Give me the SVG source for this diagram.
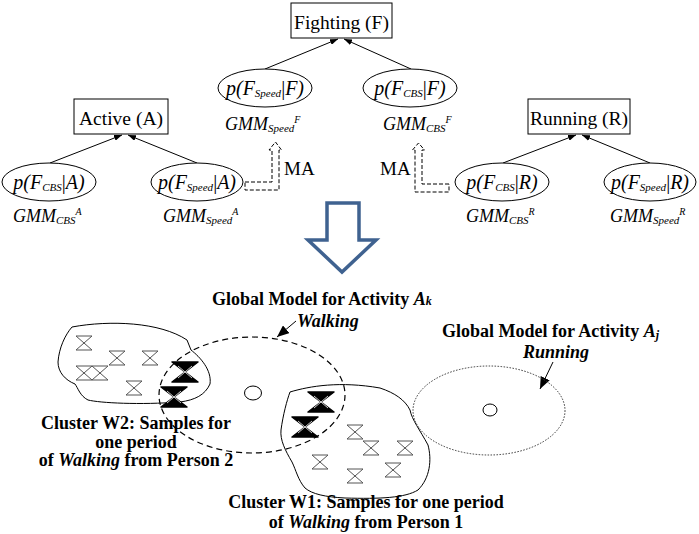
<svg xmlns="http://www.w3.org/2000/svg" xmlns:xlink="http://www.w3.org/1999/xlink" width="699" height="534" viewBox="0 0 699 534">
<style>
.box{fill:#fff;stroke:#000;stroke-width:1}
.ell{fill:#fff;stroke:#000;stroke-width:1}
.t{font-family:"Liberation Serif","Times New Roman",serif;fill:#000}
.bx{font-size:19.5px}
.it{font-style:italic;font-size:20px}
.gm{font-style:italic;font-size:18px}
.sub{font-size:11px}
.sup{font-size:10px}
.b{font-weight:bold;font-size:18px}
.edge{stroke:#000;stroke-width:1;fill:none}
.ma{fill:none;stroke:#000;stroke-width:1;stroke-dasharray:4,2}
.thin{stroke:#555;stroke-width:1;fill:none}
</style>
<defs>
<marker id="ah" viewBox="0 0 8 6" refX="8" refY="3" markerWidth="8" markerHeight="6" markerUnits="userSpaceOnUse" orient="auto">
<path d="M0,0 L8,3 L0,6 Z" fill="#000"/>
</marker>
<marker id="ah2" viewBox="0 0 12 10" refX="12" refY="5" markerWidth="12" markerHeight="10" markerUnits="userSpaceOnUse" orient="auto">
<path d="M0,0 L12,5 L0,10 Z" fill="#000"/>
</marker>
<g id="hg">
<path class="thin" d="M-8,-7 H8 M-8,7 H8 M-8,-7 L8,7 M8,-7 L-8,7"/>
</g>
<g id="hgb">
<path d="M-13,-10 H13 L0,0 Z M-13,10 H13 L0,0 Z" fill="#000" stroke="#000" stroke-width="1.5" stroke-linejoin="round"/>
<path d="M-7,-6 L7,6 M7,-6 L-7,6" stroke="#fff" stroke-width="0.8"/>
</g>
</defs>
<rect width="699" height="534" fill="#fff"/>

<g id="connectors">
<line class="edge" x1="265" y1="69" x2="338" y2="39" marker-end="url(#ah)"/>
<line class="edge" x1="411" y1="69" x2="344" y2="39" marker-end="url(#ah)"/>
<line class="edge" x1="50" y1="163" x2="122" y2="135" marker-end="url(#ah)"/>
<line class="edge" x1="197" y1="163" x2="128" y2="135" marker-end="url(#ah)"/>
<line class="edge" x1="503" y1="163" x2="576" y2="135" marker-end="url(#ah)"/>
<line class="edge" x1="650" y1="163" x2="582" y2="135" marker-end="url(#ah)"/>
<path class="ma" d="M245,182 H272 V150 H269 L275.5,142 L281.5,150 H279 V190 H245 Z"/>
<path class="ma" d="M449,184 H422 V150 H424.5 L418.5,143 L412.5,150 H415 V192 H449 Z"/>
<line class="edge" x1="296" y1="321" x2="277" y2="337" marker-end="url(#ah2)"/>
<line class="edge" x1="553" y1="362" x2="540" y2="389" marker-end="url(#ah2)"/>
</g>

<g id="fighting">
<rect class="box" x="291" y="3" width="101" height="35"/>
<text class="t bx" x="341.5" y="29" text-anchor="middle">Fighting (F)</text>
</g>
<g id="active">
<rect class="box" x="74" y="99" width="94" height="35"/>
<text class="t bx" x="121" y="125" text-anchor="middle">Active (A)</text>
</g>
<g id="running">
<rect class="box" x="528" y="99" width="102" height="35"/>
<text class="t bx" x="579" y="125" text-anchor="middle">Running (R)</text>
</g>

<g id="pSpeedF">
<ellipse class="ell" cx="265" cy="88" rx="47" ry="19"/>
<text class="t it" x="265" y="95" text-anchor="middle">p(F<tspan class="sub" dy="2">Speed</tspan><tspan dy="-2" font-style="normal">|</tspan>F)</text>
<text class="t gm" x="225" y="130">GMM<tspan class="sub" dy="2">Speed</tspan><tspan class="sup" dy="-9">F</tspan></text>
</g>
<g id="pCBSF">
<ellipse class="ell" cx="410" cy="88" rx="47" ry="19"/>
<text class="t it" x="410" y="95" text-anchor="middle">p(F<tspan class="sub" dy="2">CBS</tspan><tspan dy="-2" font-style="normal">|</tspan>F)</text>
<text class="t gm" x="383" y="130">GMM<tspan class="sub" dy="2">CBS</tspan><tspan class="sup" dy="-9">F</tspan></text>
</g>
<g id="pCBSA">
<ellipse class="ell" cx="49" cy="182" rx="47" ry="19"/>
<text class="t it" x="49" y="189" text-anchor="middle">p(F<tspan class="sub" dy="2">CBS</tspan><tspan dy="-2" font-style="normal">|</tspan>A)</text>
<text class="t gm" x="13" y="222">GMM<tspan class="sub" dy="2">CBS</tspan><tspan class="sup" dy="-9">A</tspan></text>
</g>
<g id="pSpeedA">
<ellipse class="ell" cx="197" cy="182" rx="46" ry="19"/>
<text class="t it" x="197" y="189" text-anchor="middle">p(F<tspan class="sub" dy="2">Speed</tspan><tspan dy="-2" font-style="normal">|</tspan>A)</text>
<text class="t gm" x="163" y="222">GMM<tspan class="sub" dy="2">Speed</tspan><tspan class="sup" dy="-9">A</tspan></text>
</g>
<g id="pCBSR">
<ellipse class="ell" cx="502" cy="182" rx="47" ry="19"/>
<text class="t it" x="502" y="189" text-anchor="middle">p(F<tspan class="sub" dy="2">CBS</tspan><tspan dy="-2" font-style="normal">|</tspan>R)</text>
<text class="t gm" x="466" y="222">GMM<tspan class="sub" dy="2">CBS</tspan><tspan class="sup" dy="-9">R</tspan></text>
</g>
<g id="pSpeedR">
<ellipse class="ell" cx="650" cy="182" rx="46" ry="19"/>
<text class="t it" x="650" y="189" text-anchor="middle">p(F<tspan class="sub" dy="2">Speed</tspan><tspan dy="-2" font-style="normal">|</tspan>R)</text>
<text class="t gm" x="610" y="222">GMM<tspan class="sub" dy="2">Speed</tspan><tspan class="sup" dy="-9">R</tspan></text>
</g>
<g id="ma-labels">
<text class="t" font-size="19" x="284" y="175">MA</text>
<text class="t" font-size="19" x="380" y="175">MA</text>
</g>

<g id="big-arrow">
<polygon points="327,203 359,203 359,240 376,240 342,272 308,240 327,240" fill="#fff" stroke="#3f6290" stroke-width="3.5" stroke-linejoin="miter"/>
</g>

<g id="cluster-w2">
<path class="edge" d="M72,327 C110,320 160,322 187,340 L191,350 C200,357 212,370 210,384 C205,395 195,400 180,402 C140,405 100,403 88,400 C80,396 78,388 75,384 C65,380 58,372 58,362 C59,348 65,335 72,327 Z"/>
<use href="#hg" x="84" y="343"/>
<use href="#hg" x="117" y="358"/>
<use href="#hg" x="150" y="358"/>
<use href="#hg" x="84" y="373"/>
<use href="#hg" x="100" y="373"/>
<use href="#hg" x="134" y="388"/>
</g>
<g id="cluster-w1">
<path class="edge" d="M290,392 C310,386 340,381 380,388 C395,393 405,400 410,410 C412,420 420,430 428,445 C432,460 430,478 418,490 C405,498 380,499 345,498 C325,497 312,494 305,488 C298,480 296,470 292,462 C285,450 280,440 281,430 C283,415 287,400 290,392 Z"/>
<use href="#hg" x="355" y="432"/>
<use href="#hg" x="371" y="448"/>
<use href="#hg" x="405" y="448"/>
<use href="#hg" x="320" y="462"/>
<use href="#hg" x="393" y="470"/>
<use href="#hg" x="355" y="476"/>
</g>
<g id="walking-model">
<ellipse cx="252" cy="395" rx="93" ry="58" fill="none" stroke="#000" stroke-width="1.2" stroke-dasharray="6,4"/>
<ellipse cx="253" cy="393" rx="8.5" ry="7" fill="#fff" stroke="#000" stroke-width="1"/>
<use href="#hgb" x="185" y="372"/>
<use href="#hgb" x="174" y="397"/>
<use href="#hgb" x="321" y="402"/>
<use href="#hgb" x="305" y="427"/>
</g>
<g id="running-model">
<ellipse cx="489" cy="410.5" rx="76" ry="44.5" fill="none" stroke="#333" stroke-width="1" stroke-dasharray="1.5,1.5"/>
<ellipse cx="490" cy="410" rx="7" ry="6" fill="#fff" stroke="#000" stroke-width="1"/>
</g>

<g id="labels">
<text class="t b" x="212" y="305">Global Model for Activity <tspan font-style="italic">A</tspan><tspan font-style="italic" font-size="12">k</tspan></text>
<text class="t b" font-style="italic" x="297" y="327">Walking</text>
<text class="t b" x="442" y="337">Global Model for Activity <tspan font-style="italic">A</tspan><tspan font-style="italic" font-size="12" dy="2">j</tspan></text>
<text class="t b" font-style="italic" x="556" y="358" text-anchor="middle">Running</text>
<text class="t b" x="136" y="429" text-anchor="middle">Cluster W2: Samples for</text>
<text class="t b" x="136" y="448" text-anchor="middle">one period</text>
<text class="t b" x="136" y="466" text-anchor="middle">of <tspan font-style="italic">Walking</tspan> from Person 2</text>
<text class="t b" font-size="17.5" x="366" y="508" text-anchor="middle">Cluster W1: Samples for one period</text>
<text class="t b" font-size="17.5" x="366" y="528" text-anchor="middle">of <tspan font-style="italic">Walking</tspan> from Person 1</text>
</g>
</svg>
